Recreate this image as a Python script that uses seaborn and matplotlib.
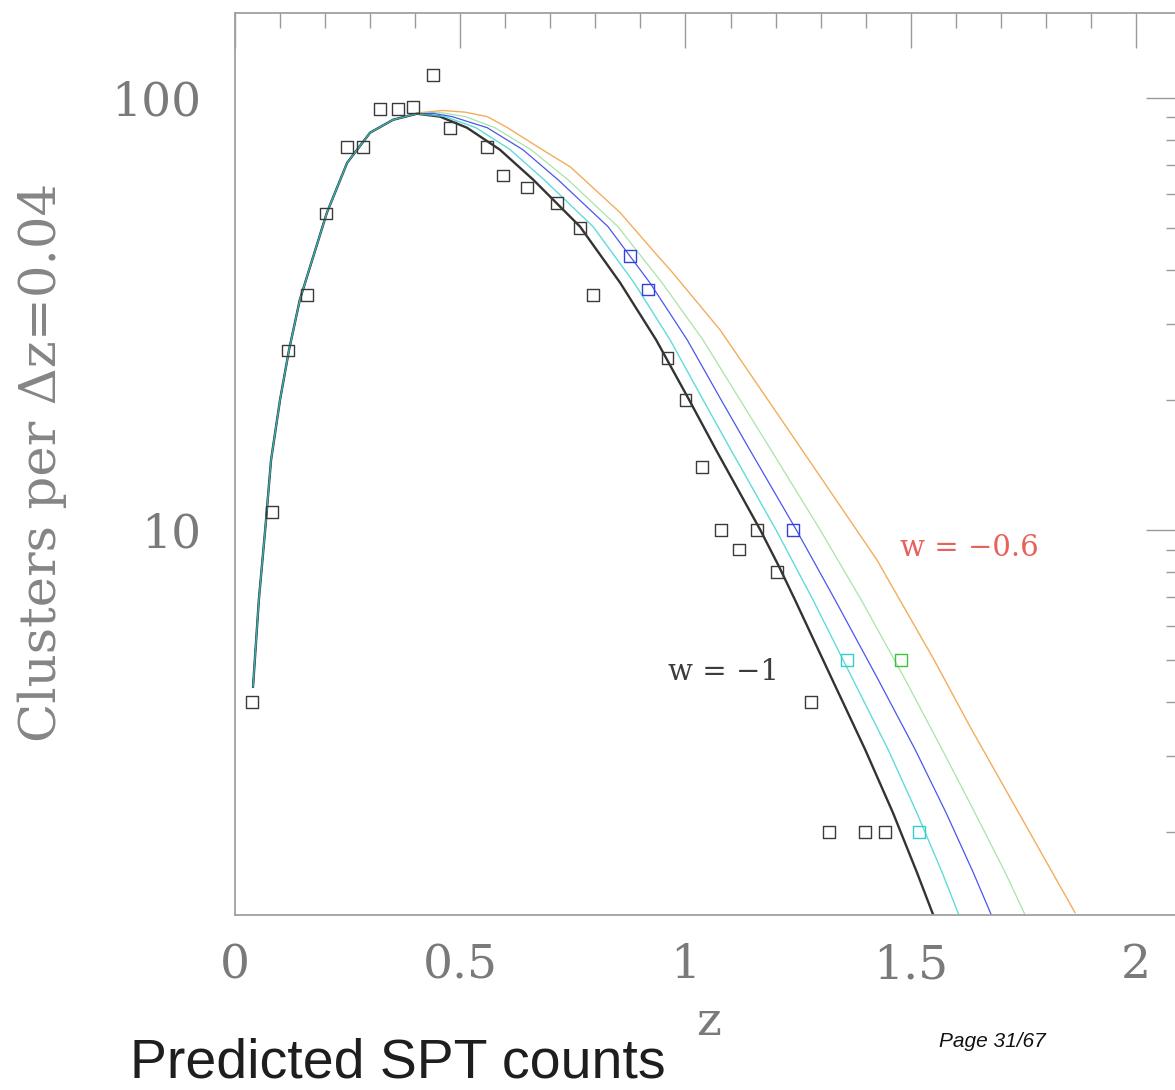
import matplotlib
matplotlib.use("Agg")
import matplotlib.pyplot as plt
import matplotlib.ticker as mticker
import seaborn as sns

# rising branch, shared by all the w models
rise_z = [0.040, 0.053, 0.067, 0.080, 0.100, 0.120, 0.144, 0.204, 0.249, 0.300, 0.351, 0.404]
rise_n = [4.33, 6.9, 10.0, 14.5, 20.0, 26.1, 34.1, 54.2, 70.7, 83.0, 88.9, 91.8]

# falling branches, one per model
black_z = [0.455, 0.515, 0.588, 0.662, 0.766, 0.855, 0.935, 1.008, 1.068, 1.166, 1.208, 1.243, 1.326, 1.399, 1.461, 1.514, 1.550]
black_n = [90.4, 85.2, 75.8, 64.6, 50.3, 37.3, 27.5, 20.0, 15.3, 10.0, 8.21, 6.89, 4.50, 3.10, 2.21, 1.61, 1.285]

cyan_z = [0.466, 0.535, 0.611, 0.686, 0.795, 0.886, 0.966, 1.039, 1.101, 1.201, 1.283, 1.372, 1.450, 1.514, 1.570, 1.607]
cyan_n = [90.4, 85.2, 75.8, 64.6, 50.3, 37.3, 27.5, 20.0, 15.3, 10.0, 6.89, 4.50, 3.10, 2.21, 1.61, 1.285]

blue_z = [0.440, 0.482, 0.560, 0.639, 0.717, 0.828, 0.921, 1.004, 1.079, 1.143, 1.246, 1.332, 1.428, 1.510, 1.579, 1.639, 1.679]
blue_n = [92.0, 90.4, 85.2, 75.8, 64.6, 50.3, 37.3, 27.5, 20.0, 15.3, 10.0, 6.89, 4.50, 3.10, 2.21, 1.61, 1.285]

green_z = [0.450, 0.511, 0.577, 0.657, 0.739, 0.850, 0.948, 1.039, 1.121, 1.190, 1.299, 1.390, 1.488, 1.570, 1.643, 1.710, 1.754]
green_n = [92.6, 90.4, 85.2, 75.8, 64.6, 50.3, 37.3, 27.5, 20.0, 15.3, 10.0, 6.89, 4.50, 3.10, 2.21, 1.61, 1.285]

orange_z = [0.411, 0.460, 0.510, 0.560, 0.605, 0.682, 0.744, 0.855, 0.932, 0.972, 1.077, 1.259, 1.425, 1.552, 1.632, 1.865]
orange_n = [92.3, 93.4, 92.6, 90.4, 85.2, 75.8, 69.2, 54.2, 43.8, 39.3, 29.0, 15.3, 8.52, 5.0, 3.50, 1.30]

# observed counts per dz bin
pt_z = [0.038, 0.082, 0.118, 0.160, 0.202, 0.249, 0.284, 0.322, 0.362, 0.395,
        0.440, 0.477, 0.560, 0.595, 0.648, 0.715, 0.766, 0.795, 0.877, 0.917,
        0.960, 1.000, 1.036, 1.079, 1.119, 1.159, 1.203, 1.239, 1.279, 1.319,
        1.359, 1.399, 1.443, 1.479, 1.519]
pt_n = [4, 11, 26, 35, 54, 77, 77, 94, 94, 95,
        113, 85, 77, 66, 62, 57, 50, 35, 43, 36,
        25, 20, 14, 10, 9, 10, 8, 10, 4, 2,
        5, 2, 2, 5, 2]
pt_kind = ['k'] * 18 + ['b', 'b'] + ['k'] * 7 + ['b', 'k', 'k', 'c', 'k', 'k', 'g', 'c']

xticks = [0, 0.5, 1, 1.5, 2]

sns.set_style("white")
plt.rcParams['font.family'] = ['DejaVu Serif']

fig = plt.figure(figsize=(11.75, 10.9), dpi=100)
ax = fig.add_axes([235 / 1175, 1 - 915 / 1090, (1181 - 235) / 1175, (915 - 13) / 1090])
ax.set_yscale('log')

curves = [
    (orange_z, orange_n, '#f2ad5c', 1.0, 1.0),
    (green_z, green_n, '#a8e4a8', 0.9, 1.0),
    (blue_z, blue_n, '#4a56f0', 0.9, 1.0),
    (black_z, black_n, '#333333', 1.7, 1.0),
    (cyan_z, cyan_n, '#38d2d2', 1.0, 0.8),
]
for cz, cn, col, lw, al in curves:
    sns.lineplot(x=rise_z + cz, y=rise_n + cn, ax=ax, color=col, lw=lw, alpha=al,
                 sort=False, estimator=None, zorder=2)

marker_cols = {'k': '#3a3a3a', 'b': '#3340e0', 'c': '#35cccc', 'g': '#3cc23c'}
for kind, col in marker_cols.items():
    xs = [z for z, k in zip(pt_z, pt_kind) if k == kind]
    ys = [n for n, k in zip(pt_n, pt_kind) if k == kind]
    sns.scatterplot(x=xs, y=ys, ax=ax, marker='s', s=70, facecolor='none',
                    edgecolor=col, linewidth=1.0, zorder=3)

ax.set_xlim(0, 2.1)
ax.set_ylim(1.285, 157)

ax.xaxis.set_major_locator(mticker.FixedLocator(xticks))
ax.xaxis.set_minor_locator(mticker.MultipleLocator(0.1))
ax.xaxis.set_major_formatter(mticker.FuncFormatter(lambda v, p: '%g' % v))
ax.yaxis.set_major_locator(mticker.LogLocator(base=10))
ax.yaxis.set_minor_locator(mticker.LogLocator(base=10, subs=range(2, 10)))
ax.yaxis.set_major_formatter(mticker.FuncFormatter(lambda v, p: '%g' % v))
ax.yaxis.set_minor_formatter(mticker.NullFormatter())

ax.tick_params(which='both', direction='in', top=True, right=True,
               color='#9a9a9a', width=1.0, labelsize=34, labelcolor='#7a7a7a')
ax.tick_params(which='major', length=25)
ax.tick_params(which='minor', length=11)
ax.tick_params(axis='x', pad=20)
ax.tick_params(axis='y', pad=24)
for sp in ax.spines.values():
    sp.set_color('#a0a0a0')
    sp.set_linewidth(1.3)

ax.text(0.961, 4.5, 'w = \u22121', fontsize=21, color='#3c3c3c', va='baseline')
ax.text(1.477, 8.7, 'w = \u22120.6', fontsize=21, color='#e8615a', va='baseline')

fig.text(42 / 1175, 1 - 462 / 1090, 'Clusters per \u0394z=0.04', rotation=90,
         ha='center', va='center', fontsize=37, color='#858585')
fig.text(709 / 1175, 1 - 1035 / 1090, 'z', ha='center', va='baseline',
         fontsize=34, color='#7a7a7a')
fig.text(130 / 1175, 1 - 1077 / 1090, 'Predicted SPT counts', ha='left', va='baseline',
         fontsize=40, color='#1e1e1e', family=['Liberation Sans', 'DejaVu Sans'])
fig.text(939 / 1175, 1 - 1047 / 1090, 'Page 31/67', ha='left', va='baseline',
         fontsize=15, style='italic', color='#111111', family=['Liberation Sans', 'DejaVu Sans'])

fig.savefig('out.png', dpi=100)
